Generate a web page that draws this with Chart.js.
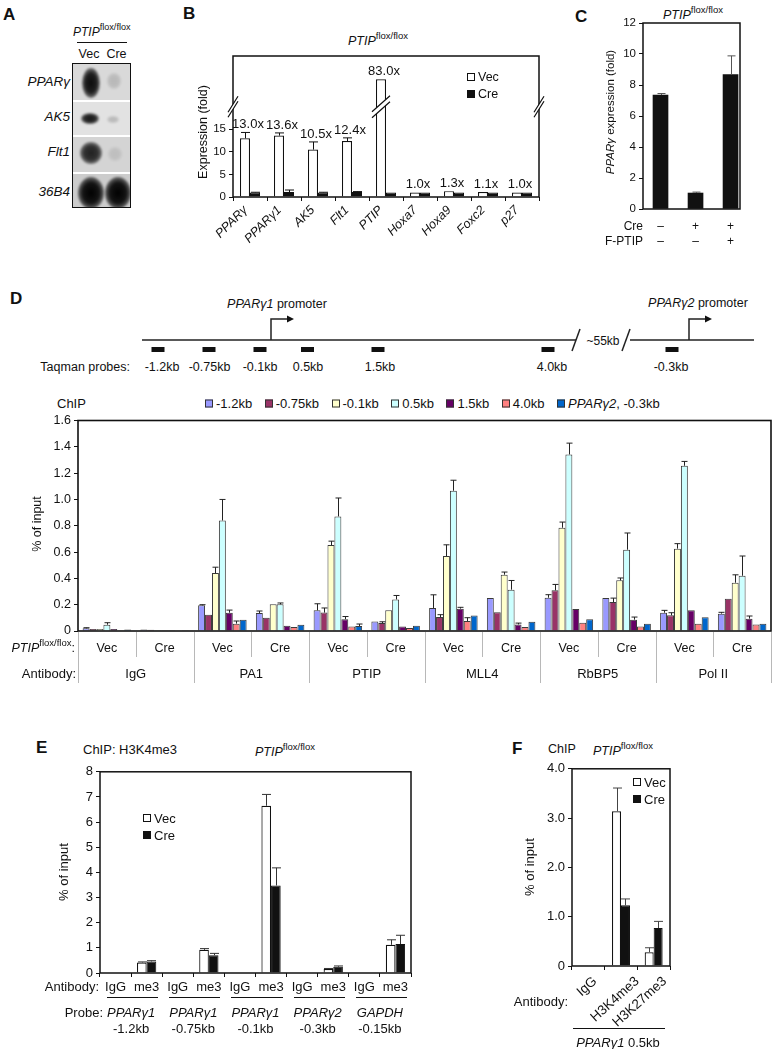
<!DOCTYPE html>
<html><head><meta charset="utf-8">
<script src="https://cdn.jsdelivr.net/npm/chart.js@4.4.1/dist/chart.umd.min.js"></script>
<style>
html,body{margin:0;padding:0;background:#fff;}
body{position:relative;width:775px;height:1049px;overflow:hidden;font-family:"Liberation Sans",Arial,Helvetica,sans-serif;color:#111;}
.t{position:absolute;white-space:nowrap;line-height:1;}
.abs{position:absolute;}
canvas{position:absolute;}
.sup{font-size:0.76em;position:relative;top:-0.62em;font-style:normal;}
</style></head><body>
<script>
// ================= DATA =================
// Panel B
const bCategories = ['PPARγ','PPARγ1','AK5','Flt1','PTIP','Hoxa7','Hoxa9','Foxc2','p27'];
const bVec    = [13.0, 13.6, 10.5, 12.4, 83.0, 1.0, 1.3, 1.1, 1.0];
const bVecErr = [1.3, 0.6, 1.7, 0.7, 0, 0, 0, 0, 0];
const bCre    = [1.0, 1.1, 1.0, 1.1, 1.0, 1.0, 1.0, 1.0, 1.0];
const bCreErr = [0.05, 0.45, 0.05, 0.1, 0, 0, 0, 0, 0];
const bFoldLabels = ['13.0x','13.6x','10.5x','12.4x','83.0x','1.0x','1.3x','1.1x','1.0x'];
const bItalic = [true,true,true,true,true,true,true,true,true];

// Panel C
const cCre    = ['–','+','+'];
const cFPTIP  = ['–','–','+'];
const cValues = [7.35, 1.03, 8.68];
const cErr    = [0.1, 0.06, 1.2];

// Panel D
const dAntibodies = ['IgG','PA1','PTIP','MLL4','RbBP5','Pol II'];
const dConditions = ['Vec','Cre'];
const dSeries = ['-1.2kb','-0.75kb','-0.1kb','0.5kb','1.5kb','4.0kb','PPARγ2, -0.3kb'];
const dSeriesHtml = ['-1.2kb','-0.75kb','-0.1kb','0.5kb','1.5kb','4.0kb','<i>PPARγ2</i>, -0.3kb'];
const d12kb   = [0.02, 0.012, 0.195, 0.137, 0.157, 0.073, 0.175, 0.25, 0.253, 0.25, 0.139, 0.132];
const d12kbE  = [0.005, 0, 0.005, 0.015, 0.05, 0, 0.1, 0, 0.023, 0, 0.018, 0.01];
const d075kb  = [0.015, 0.01, 0.124, 0.10, 0.14, 0.06, 0.106, 0.142, 0.309, 0.22, 0.119, 0.246];
const d075kbE = [0, 0, 0, 0, 0.035, 0.01, 0.018, 0, 0.045, 0.03, 0.02, 0];
const d01kb   = [0.015, 0.005, 0.44, 0.203, 0.653, 0.157, 0.57, 0.428, 0.785, 0.385, 0.626, 0.367];
const d01kbE  = [0, 0, 0.045, 0, 0.03, 0, 0.085, 0.02, 0.043, 0.018, 0.038, 0.06];
const d05kb   = [0.048, 0.005, 0.84, 0.203, 0.871, 0.24, 1.066, 0.314, 1.342, 0.618, 1.256, 0.42];
const d05kbE  = [0.015, 0, 0.16, 0.01, 0.14, 0.03, 0.08, 0.07, 0.086, 0.127, 0.033, 0.15];
const d15kb   = [0.015, 0.005, 0.139, 0.04, 0.09, 0.035, 0.17, 0.05, 0.167, 0.086, 0.157, 0.094];
const d15kbE  = [0, 0, 0.02, 0, 0.02, 0, 0.01, 0.01, 0, 0.02, 0, 0.02];
const d40kb   = [0.005, 0.003, 0.056, 0.03, 0.035, 0.023, 0.076, 0.03, 0.063, 0.035, 0.056, 0.05];
const d40kbE  = [0, 0, 0.02, 0, 0, 0, 0.025, 0, 0, 0, 0, 0];
const dPparg2 = [0.012, 0.005, 0.086, 0.048, 0.038, 0.04, 0.117, 0.07, 0.089, 0.056, 0.104, 0.056];
const dPparg2E= [0, 0, 0, 0, 0.015, 0, 0, 0, 0, 0, 0, 0];
const dProbeLabels = ['-1.2kb','-0.75kb','-0.1kb','0.5kb','1.5kb','4.0kb','-0.3kb'];

// Panel E
const eAntibody = ['IgG','me3','IgG','me3','IgG','me3','IgG','me3','IgG','me3'];
const eProbeName = ['PPARγ1','PPARγ1','PPARγ1','PPARγ2','GAPDH'];
const eProbePos  = ['-1.2kb','-0.75kb','-0.1kb','-0.3kb','-0.15kb'];
const eVec    = [0, 0.42, 0, 0.92, 0, 6.65, 0, 0.16, 0, 1.12];
const eVecErr = [0, 0.02, 0, 0.05, 0, 0.45, 0, 0.02, 0, 0.2];
const eCre    = [0, 0.46, 0, 0.71, 0, 3.48, 0, 0.25, 0, 1.15];
const eCreErr = [0, 0.03, 0, 0.07, 0, 0.7, 0, 0.03, 0, 0.35];

// Panel F
const fCategories = ['IgG','H3K4me3','H3K27me3'];
const fVec    = [0.015, 3.14, 0.28];
const fVecErr = [0, 0.47, 0.09];
const fCre    = [0.005, 1.23, 0.77];
const fCreErr = [0, 0.13, 0.135];

// ================= STYLE / LAYOUT =================
const FONT = '"Liberation Sans", Arial, Helvetica, sans-serif';
Chart.defaults.font.family = FONT;
Chart.defaults.color = '#111';
const dColors = ['#9999FF','#993366','#FFFFCC','#CCFFFF','#660066','#FF8080','#0066CC'];
const probeX = [158, 209, 260, 307.5, 378, 548, 672];
const probeLabelX = [162, 209.5, 260, 308, 380, 552, 671];
const PTIPFF = '<i>PTIP</i><span class="sup">flox/flox</span>';

// ---------- broken linear scale for panel B ----------
const BREAK_AT = 20, BREAK_K = 0.0965;
const LinearScale = Chart.LinearScale || Chart.registry.getScale('linear');
class BrokenLinearScale extends LinearScale {
  getPixelForValue(v) {
    const c = (v > BREAK_AT) ? BREAK_AT + (v - BREAK_AT) * BREAK_K : v;
    return super.getPixelForValue(c);
  }
}
BrokenLinearScale.id = 'brokenLinear';
BrokenLinearScale.defaults = LinearScale.defaults;
Chart.register(BrokenLinearScale);

// ---------- plugins ----------
const errPlugin = {
  id: 'errbars',
  afterDatasetsDraw(chart, args, opts) {
    const ctx = chart.ctx, ys = chart.scales.y;
    chart.data.datasets.forEach((ds, di) => {
      if (!ds.errors) return;
      const meta = chart.getDatasetMeta(di);
      meta.data.forEach((bar, i) => {
        const e = ds.errors[i]; if (!e) return;
        const raw = ds.data[i]; const v = (typeof raw === 'object') ? raw.y : raw;
        const yTop = ys.getPixelForValue(v + e);
        const x = Math.round(bar.x) + 0.5, cap = opts.cap || 3;
        ctx.save();
        ctx.strokeStyle = opts.color || '#111'; ctx.lineWidth = 1;
        ctx.beginPath();
        ctx.moveTo(x, bar.y); ctx.lineTo(x, yTop);
        ctx.moveTo(x - cap, yTop); ctx.lineTo(x + cap, yTop);
        ctx.stroke(); ctx.restore();
      });
    });
  }
};
function drawBreak(ctx, cx, cy, hw, hh, gap) {
  ctx.save();
  ctx.fillStyle = '#fff';
  ctx.beginPath();
  ctx.moveTo(cx - hw, cy + hh - gap / 2); ctx.lineTo(cx + hw, cy - hh - gap / 2);
  ctx.lineTo(cx + hw, cy - hh + gap / 2); ctx.lineTo(cx - hw, cy + hh + gap / 2);
  ctx.closePath(); ctx.fill();
  ctx.strokeStyle = '#111'; ctx.lineWidth = 1.2;
  ctx.beginPath();
  ctx.moveTo(cx - hw, cy + hh - gap / 2); ctx.lineTo(cx + hw, cy - hh - gap / 2);
  ctx.moveTo(cx - hw, cy + hh + gap / 2); ctx.lineTo(cx + hw, cy - hh + gap / 2);
  ctx.stroke(); ctx.restore();
}
const framePlugin = {
  id: 'frame',
  afterDraw(chart, args, opts) {
    if (!opts || !opts.show) return;
    const a = chart.chartArea, ctx = chart.ctx;
    ctx.save();
    ctx.strokeStyle = '#111'; ctx.lineWidth = opts.width || 1.5;
    ctx.strokeRect(a.left, a.top, a.right - a.left, a.bottom - a.top);
    ctx.restore();
    if (opts.breakAt != null) {
      const y = chart.scales.y.getPixelForValue(opts.breakAt);
      drawBreak(ctx, a.left, y, 5, 8, 5);
      drawBreak(ctx, a.right, y, 5, 8, 5);
      if (opts.breakBar) {
        const bar = chart.getDatasetMeta(opts.breakBar[0]).data[opts.breakBar[1]];
        drawBreak(ctx, bar.x, y, 9, 8, 6);
      }
    }
    if (opts.separators) {
      const xs = chart.scales.x, n = chart.data.labels.length, w = (xs.right - xs.left) / n;
      ctx.save(); ctx.strokeStyle = '#b8b8b8'; ctx.lineWidth = 1;
      ctx.beginPath();
      for (let i = 0; i <= n; i++) {
        const x = Math.round(xs.left + i * w) + 0.5;
        ctx.moveTo(x, a.bottom + 1);
        ctx.lineTo(x, a.bottom + (i % 2 === 0 ? 52 : 26));
      }
      ctx.stroke(); ctx.restore();
    }
  }
};
Chart.register(errPlugin, framePlugin);

// ---------- helpers ----------
function T(html, x, y, o = {}) {
  const d = document.createElement('div'); d.className = 't'; d.innerHTML = html;
  d.style.left = x + 'px'; d.style.top = y + 'px';
  d.style.fontSize = (o.size || 12) + 'px';
  const ax = o.align === 'right' ? '-100%' : (o.align === 'left' ? '0' : '-50%');
  d.style.transform = o.rot ? `translate(-50%,-50%) rotate(${o.rot}deg)` : `translate(${ax},-50%)`;
  if (o.italic) d.style.fontStyle = 'italic';
  if (o.bold) d.style.fontWeight = 'bold';
  document.body.appendChild(d); return d;
}
function RT(html, x, y, size, rot) {
  const d = document.createElement('div'); d.className = 't'; d.innerHTML = html;
  d.style.right = (775 - x) + 'px'; d.style.top = y + 'px'; d.style.fontSize = size + 'px';
  d.style.transformOrigin = '100% 50%';
  d.style.transform = `translateY(-50%) rotate(${rot}deg)`;
  document.body.appendChild(d); return d;
}
function R(x, y, w, h, css) {
  const d = document.createElement('div'); d.className = 'abs';
  d.style.cssText = `left:${x}px;top:${y}px;width:${w}px;height:${h}px;${css || ''}`;
  document.body.appendChild(d); return d;
}
function legendBox(x, y, fill) { R(x, y - 4, 8, 8, `background:${fill};border:1.2px solid #111;box-sizing:border-box`); }

function makeChart(box, config) {
  const W = box.R - box.L + box.lw + box.rp, H = box.B - box.T + box.tp + box.bh;
  const c = document.createElement('canvas');
  c.width = W; c.height = H;
  c.style.left = (box.L - box.lw) + 'px'; c.style.top = (box.T - box.tp) + 'px';
  c.style.width = W + 'px'; c.style.height = H + 'px';
  document.body.appendChild(c);
  const o = config.options;
  o.responsive = false; o.maintainAspectRatio = false; o.animation = false; o.devicePixelRatio = 1;
  o.layout = { padding: { left: 0, top: box.tp, right: box.rp, bottom: 0 } };
  o.plugins = Object.assign({ legend: { display: false }, tooltip: { enabled: false } }, o.plugins || {});
  o.scales.x.afterFit = s => { s.height = box.bh; };
  o.scales.y.afterFit = s => { s.width = box.lw; };
  const ch = new Chart(c, config);
  ch.$ox = box.L - box.lw; ch.$oy = box.T - box.tp;
  return ch;
}
function yAxis(max, step, size, extra) {
  return Object.assign({
    type: 'linear', min: 0, max: max,
    ticks: { stepSize: step, font: { size: size }, color: '#111', padding: 3 },
    grid: { display: true, drawOnChartArea: false, drawTicks: true, tickLength: 4, color: '#111', lineWidth: 1 },
    border: { display: false }
  }, extra || {});
}
function xCat(marks) {
  return { type: 'category', offset: true, ticks: { display: false },
    grid: { display: !!marks, offset: true, drawOnChartArea: false, drawTicks: true, tickLength: 4, color: '#111' },
    border: { display: false } };
}

// ================= PANEL A (blot) =================
T('A', 3, 14, { size: 17, bold: true, align: 'left' });
T(PTIPFF, 73, 32, { size: 12, align: 'left' });
R(77, 42, 50, 1.3, 'background:#111');
T('Vec', 89, 54, { size: 12.5 });
T('Cre', 116.5, 54, { size: 12.5 });
(function blot() {
  const b = R(72, 63, 57, 143, 'border:1.3px solid #111;background:#fff;overflow:hidden;');
  const strips = [[0, 36, '#d9d9d9'], [38, 33, '#e2e2e2'], [73, 35, '#d4d4d4'], [110, 33, '#cccccc']];
  strips.forEach(([y, h, c]) => { const s = document.createElement('div'); s.className = 'abs'; s.style.cssText = `left:0;top:${y}px;width:100%;height:${h}px;background:${c}`; b.appendChild(s); });
  const blobs = [[18, 19, 18, 30, 0.95], [41, 17, 14, 16, 0.15], [17, 54, 18, 11, 0.9], [40, 55, 12, 7, 0.18], [18, 89, 22, 22, 0.85], [42, 90, 14, 14, 0.1], [18, 129, 26, 32, 1], [45, 129, 26, 32, 1]];
  blobs.forEach(([x, y, w, h, a]) => { const d = document.createElement('div'); d.className = 'abs'; d.style.cssText = `left:${x - w / 2}px;top:${y - h / 2}px;width:${w}px;height:${h}px;border-radius:50%;background:radial-gradient(ellipse at center, rgba(0,0,0,${a}) 0%, rgba(0,0,0,${a * 0.9}) 45%, rgba(0,0,0,0) 100%);filter:blur(1px)`; b.appendChild(d); });
})();
T('PPARγ', 70, 82, { size: 13.5, italic: true, align: 'right' });
T('AK5', 70, 117, { size: 13.5, italic: true, align: 'right' });
T('Flt1', 70, 152, { size: 13.5, italic: true, align: 'right' });
T('36B4', 70, 192, { size: 13.5, italic: true, align: 'right' });

// ================= PANEL B =================
T('B', 183, 13, { size: 17, bold: true, align: 'left' });
T(PTIPFF, 348, 41, { size: 12.5, align: 'left' });
const chartB = makeChart({ L: 233, T: 56, R: 539, B: 197, lw: 40, tp: 10, rp: 10, bh: 50 }, {
  type: 'bar',
  data: { labels: bCategories, datasets: [
    { label: 'Vec', data: bVec, errors: bVecErr, backgroundColor: '#fff', borderColor: '#111', borderWidth: 1.2, categoryPercentage: 0.59, barPercentage: 1.0 },
    { label: 'Cre', data: bCre, errors: bCreErr, backgroundColor: '#111', borderColor: '#111', borderWidth: 1, categoryPercentage: 0.59, barPercentage: 1.0 }
  ] },
  options: {
    scales: {
      x: xCat(true),
      y: yAxis(31.24, 5, 11.5, { type: 'brokenLinear', afterBuildTicks: s => { s.ticks = s.ticks.filter(t => t.value <= 15); } })
    },
    plugins: { errbars: { cap: 4.5, color: '#111' }, frame: { show: true, width: 1.5, breakAt: BREAK_AT, breakBar: [0, 4] } }
  }
});
T('Expression (fold)', 203, 132, { size: 12.5, rot: -90 });
legendBox(467, 77, '#fff'); T('Vec', 478, 77, { size: 12.5, align: 'left' });
legendBox(467, 94, '#111'); T('Cre', 478, 94, { size: 12.5, align: 'left' });
(function () {
  const xs = chartB.scales.x, ys = chartB.scales.y;
  bCategories.forEach((c, i) => {
    const x = chartB.$ox + xs.getPixelForValue(i);
    RT(bItalic[i] ? `<i>${c}</i>` : c, x - 5, 208, 12.5, -45);
    const top = Math.max(bVec[i] + bVecErr[i], bCre[i] + bCreErr[i]);
    T(bFoldLabels[i], x - 2, chartB.$oy + ys.getPixelForValue(top) - 9, { size: 13 });
  });
})();

// ================= PANEL C =================
T('C', 575, 16, { size: 17, bold: true, align: 'left' });
T(PTIPFF, 663, 15, { size: 12.5, align: 'left' });
const chartC = makeChart({ L: 643, T: 23, R: 740, B: 209, lw: 40, tp: 10, rp: 10, bh: 20 }, {
  type: 'bar',
  data: { datasets: [
    { label: 'PPARγ', data: cValues.map((v, i) => ({ x: i + 1, y: v })), errors: cErr, backgroundColor: '#111', borderColor: '#111', borderWidth: 0, barThickness: 15 }
  ] },
  options: {
    scales: {
      x: { type: 'linear', min: 0.5, max: 3.27, offset: false, ticks: { display: false }, grid: { display: false }, border: { display: false } },
      y: yAxis(12, 2, 11.5)
    },
    plugins: { errbars: { cap: 4, color: '#555' }, frame: { show: true, width: 1.5 } }
  }
});
T('<i>PPARγ</i> expression (fold)', 611, 112, { size: 11.5, rot: -90 });
T('Cre', 643, 226, { size: 12, align: 'right' });
T('F-PTIP', 643, 241, { size: 12, align: 'right' });
cValues.forEach((v, i) => {
  const x = chartC.$ox + chartC.scales.x.getPixelForValue(i + 1);
  T(cCre[i], x, 226, { size: 12 });
  T(cFPTIP[i], x, 241, { size: 12 });
});

// ================= PANEL D =================
T('D', 10, 298, { size: 17, bold: true, align: 'left' });
(function diagram() {
  const dg = R(0, 290, 775, 90, '');
  dg.innerHTML = `<svg width="775" height="90" xmlns="http://www.w3.org/2000/svg">
<g stroke="#222" stroke-width="1.5" fill="none">
<line x1="142" y1="50" x2="576" y2="50"/>
<line x1="630" y1="50" x2="754" y2="50"/>
<line x1="572" y1="61" x2="580" y2="39"/>
<line x1="622" y1="61" x2="630" y2="39"/>
<polyline points="271,50 271,29 288,29"/>
<polyline points="689,50 689,29 706,29"/>
</g>
<g fill="#111">
<polygon points="287,25.5 294,29 287,32.5"/>
<polygon points="705,25.5 712,29 705,32.5"/>
${probeX.map(x => `<rect x="${x - 6.5}" y="57" width="13" height="5"/>`).join('')}
</g></svg>`;
})();
T('<i>PPARγ1</i> promoter', 277, 304, { size: 12.5 });
T('<i>PPARγ2</i> promoter', 698, 303, { size: 12.5 });
T('~55kb', 603, 341, { size: 12 });
T('Taqman probes:', 130, 367, { size: 12.5, align: 'right' });
dProbeLabels.forEach((l, i) => T(l, probeLabelX[i], 367, { size: 12.5 }));

T('ChIP', 57, 403, { size: 13, align: 'left' });
(function () {
  const leg = document.createElement('div'); leg.className = 't';
  leg.style.cssText = 'left:205px;top:403px;transform:translateY(-50%);display:flex;gap:12.5px;font-size:13px;align-items:center;';
  leg.innerHTML = dSeriesHtml.map((s, i) => `<span style="display:flex;align-items:center"><span style="display:inline-block;width:8px;height:8px;box-sizing:border-box;background:${dColors[i]};border:1px solid #333;margin-right:3px"></span>${s}</span>`).join('');
  document.body.appendChild(leg);
})();
const dLabels = [];
dAntibodies.forEach(a => dConditions.forEach(c => dLabels.push(a + ' ' + c)));
const dValues = [d12kb, d075kb, d01kb, d05kb, d15kb, d40kb, dPparg2];
const dErrors = [d12kbE, d075kbE, d01kbE, d05kbE, d15kbE, d40kbE, dPparg2E];
const chartD = makeChart({ L: 78, T: 420, R: 771, B: 631, lw: 45, tp: 10, rp: 3, bh: 60 }, {
  type: 'bar',
  data: { labels: dLabels, datasets: dSeries.map((s, i) => ({
    label: s, data: dValues[i], errors: dErrors[i], backgroundColor: dColors[i], borderColor: '#3a3a3a', borderWidth: 1,
    categoryPercentage: 0.84, barPercentage: 1.0
  })) },
  options: {
    scales: { x: xCat(false), y: yAxis(1.6, 0.2, 12.5) },
    plugins: { errbars: { cap: 3, color: '#222' }, frame: { show: true, width: 1.6, separators: true } }
  }
});
T('% of input', 37, 524, { size: 12.5, rot: -90 });
T(PTIPFF + ':', 75, 648, { size: 12.5, align: 'right' });
T('Antibody:', 76, 673, { size: 13, align: 'right' });
(function () {
  const xs = chartD.scales.x;
  dLabels.forEach((l, i) => T(dConditions[i % 2], chartD.$ox + xs.getPixelForValue(i), 648, { size: 12.5 }));
  dAntibodies.forEach((a, g) => {
    const x = chartD.$ox + (xs.getPixelForValue(2 * g) + xs.getPixelForValue(2 * g + 1)) / 2;
    T(a, x, 673, { size: 13 });
  });
})();

// ================= PANEL E =================
T('E', 36, 747, { size: 17, bold: true, align: 'left' });
T('ChIP: H3K4me3', 83, 749, { size: 13, align: 'left' });
T(PTIPFF, 255, 752, { size: 12.5, align: 'left' });
const chartE = makeChart({ L: 100, T: 771, R: 411, B: 973, lw: 40, tp: 10, rp: 10, bh: 20 }, {
  type: 'bar',
  data: { labels: eAntibody.map((a, i) => a + ' ' + eProbePos[Math.floor(i / 2)]), datasets: [
    { label: 'Vec', data: eVec, errors: eVecErr, backgroundColor: '#fff', borderColor: '#111', borderWidth: 1.2, categoryPercentage: 0.62, barPercentage: 1.0 },
    { label: 'Cre', data: eCre, errors: eCreErr, backgroundColor: '#111', borderColor: '#111', borderWidth: 1, categoryPercentage: 0.62, barPercentage: 1.0 }
  ] },
  options: {
    scales: { x: xCat(true), y: yAxis(8, 1, 13) },
    plugins: { errbars: { cap: 4.5, color: '#333' }, frame: { show: true, width: 1.5 } }
  }
});
T('% of input', 63, 872, { size: 13, rot: -90 });
legendBox(143, 818, '#fff'); T('Vec', 154, 818, { size: 13, align: 'left' });
legendBox(143, 835, '#111'); T('Cre', 154, 835, { size: 13, align: 'left' });
T('Antibody:', 99, 986, { size: 13, align: 'right' });
T('Probe:', 103, 1012, { size: 13, align: 'right' });
(function () {
  const xs = chartE.scales.x, w = (xs.right - xs.left) / eAntibody.length;
  eAntibody.forEach((a, i) => T(a, chartE.$ox + xs.getPixelForValue(i), 986, { size: 13 }));
  eProbeName.forEach((p, g) => {
    const x0 = chartE.$ox + xs.getPixelForValue(2 * g) - w / 2, x1 = chartE.$ox + xs.getPixelForValue(2 * g + 1) + w / 2;
    R(x0 + 7, 997, (x1 - 4) - (x0 + 7), 1.3, 'background:#111');
    const cx = (x0 + x1) / 2;
    T(p, cx, 1012, { size: 13, italic: true });
    T(eProbePos[g], cx, 1028, { size: 13 });
  });
})();

// ================= PANEL F =================
T('F', 512, 748, { size: 17, bold: true, align: 'left' });
T('ChIP', 548, 749, { size: 12.5, align: 'left' });
T(PTIPFF, 593, 751, { size: 12.5, align: 'left' });
const chartF = makeChart({ L: 572, T: 768, R: 670, B: 966, lw: 40, tp: 10, rp: 10, bh: 20 }, {
  type: 'bar',
  data: { labels: fCategories, datasets: [
    { label: 'Vec', data: fVec, errors: fVecErr, backgroundColor: '#fff', borderColor: '#111', borderWidth: 1.2, categoryPercentage: 0.55, barPercentage: 1.0 },
    { label: 'Cre', data: fCre, errors: fCreErr, backgroundColor: '#111', borderColor: '#111', borderWidth: 1, categoryPercentage: 0.55, barPercentage: 1.0 }
  ] },
  options: {
    scales: { x: xCat(true), y: yAxis(4, 1, 13, { ticks: { stepSize: 1, font: { size: 13 }, color: '#111', padding: 3, callback: v => (v === 0 ? '0' : Number(v).toFixed(1)) } }) },
    plugins: { errbars: { cap: 4.5, color: '#444' }, frame: { show: true, width: 1.5 } }
  }
});
T('% of input', 529, 867, { size: 13, rot: -90 });
legendBox(633, 782, '#fff'); T('Vec', 644, 782, { size: 13, align: 'left' });
legendBox(633, 799, '#111'); T('Cre', 644, 799, { size: 13, align: 'left' });
T('Antibody:', 568, 1001, { size: 13, align: 'right' });
(function () {
  const xs = chartF.scales.x;
  const dx = [6, 16, 11];
  fCategories.forEach((c, i) => RT(c, chartF.$ox + xs.getPixelForValue(i) + dx[i], 979, 13.5, -42));
})();
R(573, 1028, 92, 1.3, 'background:#111');
T('<i>PPARγ1</i> 0.5kb', 618, 1042, { size: 13 });
</script>
</body></html>
